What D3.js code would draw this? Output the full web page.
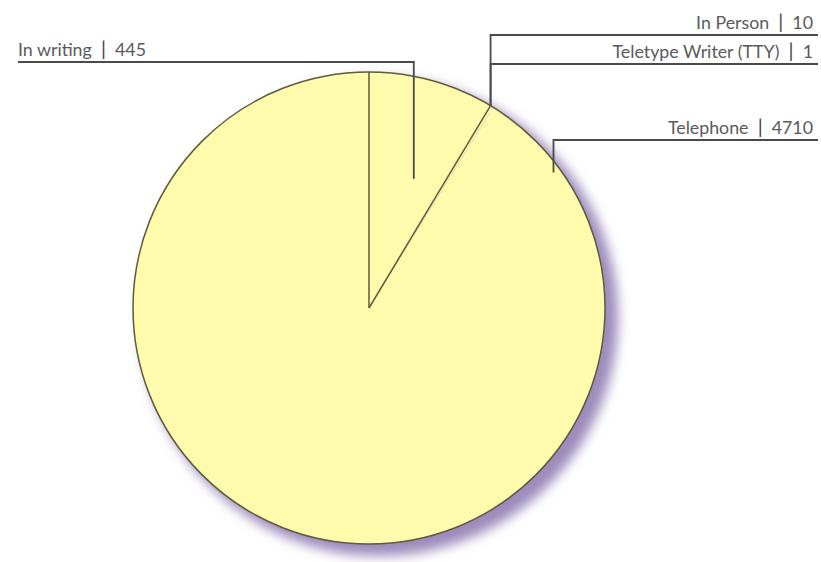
<!DOCTYPE html>
<html>
<head>
<meta charset="utf-8">
<script src="https://cdn.jsdelivr.net/npm/d3@7"></script>
<style>
  body { margin: 0; background: #fff; }
  .label { font-family: Lato, "Open Sans", sans-serif; font-size: 17.8px; fill: #5a5a5a; white-space: pre; }
  .pipe { font-size: 20px; fill: #444; }
  .leader { fill: none; stroke: #4a4a4a; stroke-width: 1.8; }
  .slice { fill: #fffbad; stroke: none; }
  .edge { fill: none; stroke: #5f5b3c; stroke-width: 1.5; }
</style>
</head>
<body>
<script>
(function(){

    // chart data
    var categories = ["In writing", "In Person", "Teletype Writer (TTY)", "Telephone"];
    var values = [445, 10, 1, 4710];

    var width = 821,
        height = 562,
        cx = 369,
        cy = 308,
        radius = 236;

    // where each label sits and where its leader lands on the pie
    // anchor given as [angle (deg, clockwise from top), fraction of radius]
    var labelLayout = [
        { x: 18,  y: 62,  anchor: [19.1, 0.58], side: "left" },
        { x: 813, y: 35,  anchor: null,         side: "right" },
        { x: 813, y: 64,  anchor: null,         side: "right" },
        { x: 813, y: 140, anchor: [53.7, 0.97], side: "right" }
    ];

    var svg = d3.select("body")
        .append("svg")
        .attr("width", width)
        .attr("height", height);

    var defs = svg.append("defs");
    defs.append("filter")
        .attr("id", "blur")
        .attr("x", "-20%").attr("y", "-20%")
        .attr("width", "140%").attr("height", "140%")
        .append("feGaussianBlur")
        .attr("stdDeviation", 6);

    var pie = d3.pie().sort(null).value(function(d){ return d; });
    var arcs = pie(values);

    var arc = d3.arc().innerRadius(0).outerRadius(radius);

    var g = svg.append("g")
        .attr("transform", "translate(" + cx + "," + cy + ")");

    // soft purple shadow to the lower right
    g.append("circle")
        .attr("cx", 10)
        .attr("cy", 9)
        .attr("r", radius + 3)
        .attr("fill", "#9d8bbb")
        .attr("filter", "url(#blur)");

    g.selectAll(".slice")
        .data(arcs)
        .enter()
        .append("path")
        .attr("class", "slice")
        .attr("d", arc);

    // outline and the two visible slice borders
    g.append("circle")
        .attr("class", "edge")
        .attr("r", radius);

    [arcs[0].startAngle, arcs[1].startAngle].forEach(function(a){
        g.append("line")
            .attr("class", "edge")
            .attr("x1", 0).attr("y1", 0)
            .attr("x2", radius * Math.sin(a))
            .attr("y2", -radius * Math.cos(a));
    });

    function polar(angleDeg, r){
        var a = angleDeg * Math.PI / 180;
        return [cx + r * Math.sin(a), cy - r * Math.cos(a)];
    }

    // small slices share the edge point where they start
    var smallEdge = polar(arcs[1].startAngle * 180 / Math.PI, radius);

    arcs.forEach(function(d, i){
        var lay = labelLayout[i];
        var p = lay.anchor ? polar(lay.anchor[0], lay.anchor[1] * radius) : smallEdge;
        var startX = lay.side === "left" ? lay.x : lay.x + 5;
        var pts = [[startX, lay.y], [p[0], lay.y], p];

        svg.append("path")
            .attr("class", "leader")
            .attr("d", d3.line()(pts));

        var t = svg.append("text")
            .attr("class", "label")
            .attr("x", lay.x)
            .attr("y", lay.y - 6)
            .attr("text-anchor", lay.side === "left" ? "start" : "end");
        t.append("tspan").text(categories[i] + "  ");
        t.append("tspan").attr("class", "pipe").text("|");
        t.append("tspan").text("  " + values[i]);
    });

})();
</script>
</body>
</html>
